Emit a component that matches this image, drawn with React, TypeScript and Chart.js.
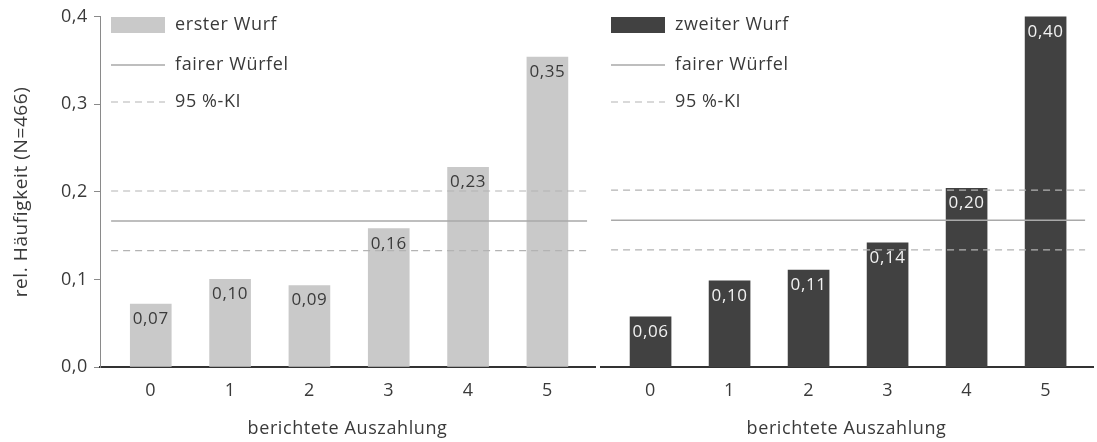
import React, { useEffect, useRef } from 'react';
import { Chart, registerables } from 'chart.js';

Chart.register(...registerables);

// ---- data ----
const categories = [0, 1, 2, 3, 4, 5];
const firstThrow = [0.072, 0.1, 0.093, 0.158, 0.228, 0.354];
const secondThrow = [0.057, 0.098, 0.11, 0.141, 0.203, 0.398];
const fairDie = 0.1667;
const ciLower = 0.133;
const ciUpper = 0.201;
const yTicks = [0, 0.1, 0.2, 0.3, 0.4];
const lineSpan = [-0.5, 5.5];
const yTitle = 'rel. Häufigkeit (N=466)';
const xTitle = 'berichtete Auszahlung';
const firstLabel = 'erster Wurf';
const secondLabel = 'zweiter Wurf';
const fairLabel = 'fairer Würfel';
const ciLabel = '95 %-KI';

const FONT = "'Open Sans', 'Noto Sans', sans-serif";
const TEXT = '#3a3a3a';
const SPACING = '0.6px';

const fmt = (v: number, d: number) => v.toFixed(d).replace('.', ',');

const spacingPlugin = {
  id: 'letterSpacing',
  beforeUpdate(chart: any) {
    (chart.ctx as any).letterSpacing = SPACING;
  },
  beforeLayout(chart: any) {
    (chart.ctx as any).letterSpacing = SPACING;
  },
  beforeDraw(chart: any) {
    (chart.ctx as any).letterSpacing = SPACING;
  },
};

const legendPlugin = {
  id: 'panelLegend',
  afterDatasetsDraw(chart: any) {
    const ctx = chart.ctx;
    const area = chart.chartArea;
    const ds = chart.data.datasets;
    const x0 = area.left + 11;
    const rows = [25, 65, 102];
    ctx.save();
    ctx.fillStyle = ds[0].backgroundColor;
    ctx.fillRect(x0, 17, 54, 16);
    ctx.strokeStyle = ds[1].borderColor;
    ctx.lineWidth = 1.5;
    ctx.beginPath();
    ctx.moveTo(x0, rows[1]);
    ctx.lineTo(x0 + 54, rows[1]);
    ctx.stroke();
    ctx.strokeStyle = ds[2].borderColor;
    ctx.lineWidth = 1.2;
    ctx.setLineDash(ds[2].borderDash);
    ctx.beginPath();
    ctx.moveTo(x0, rows[2]);
    ctx.lineTo(x0 + 54, rows[2]);
    ctx.stroke();
    ctx.setLineDash([]);
    ctx.fillStyle = TEXT;
    ctx.letterSpacing = SPACING;
    ctx.font = `18px ${FONT}`;
    ctx.textBaseline = 'middle';
    ctx.textAlign = 'left';
    [ds[0].label, ds[1].label, ds[2].label].forEach((t: string, i: number) => {
      ctx.fillText(t, x0 + 64, rows[i]);
    });
    ctx.restore();
  },
};

const valueLabelPlugin = {
  id: 'valueLabels',
  afterDatasetsDraw(chart: any, _args: any, opts: any) {
    const ctx = chart.ctx;
    const meta = chart.getDatasetMeta(0);
    const values = chart.data.datasets[0].data;
    ctx.save();
    ctx.letterSpacing = SPACING;
    ctx.font = `17px ${FONT}`;
    ctx.fillStyle = opts.color || TEXT;
    ctx.textAlign = 'center';
    ctx.textBaseline = 'middle';
    meta.data.forEach((el: any, i: number) => {
      ctx.fillText(fmt(values[i].y, 2), el.x, el.y + 15);
    });
    ctx.restore();
  },
};

function makeConfig(values: number[], label: string, color: string, labelColor: string, showY: boolean) {
  return {
    type: 'bar',
    data: {
      datasets: [
        {
          type: 'bar',
          label,
          data: categories.map((c, i) => ({ x: c, y: values[i] })),
          backgroundColor: color,
          barThickness: 41,
          order: 3,
        },
        {
          type: 'line',
          label: fairLabel,
          data: lineSpan.map((x) => ({ x, y: fairDie })),
          borderColor: '#a9a9a9',
          borderWidth: 1.5,
          pointRadius: 0,
          order: 1,
        },
        {
          type: 'line',
          label: ciLabel,
          data: lineSpan.map((x) => ({ x, y: ciUpper })),
          borderColor: '#b3b3b3',
          borderWidth: 1.2,
          borderDash: [7, 5],
          pointRadius: 0,
          order: 1,
        },
        {
          type: 'line',
          label: ciLabel,
          data: lineSpan.map((x) => ({ x, y: ciLower })),
          borderColor: '#b3b3b3',
          borderWidth: 1.2,
          borderDash: [7, 5],
          pointRadius: 0,
          order: 1,
        },
      ],
    },
    options: {
      responsive: false,
      animation: false,
      layout: { padding: { top: 15, right: showY ? 5 : 4, left: 0, bottom: 0 } },
      plugins: {
        legend: { display: false },
        tooltip: { enabled: false },
        valueLabels: { color: labelColor },
      },
      scales: {
        x: {
          type: 'linear',
          min: -0.64,
          max: 5.6,
          offset: false,
          afterBuildTicks: (s: any) => {
            s.ticks = categories.map((v) => ({ value: v }));
          },
          afterFit: (s: any) => {
            s.height = 75;
          },
          grid: { display: false, drawTicks: false, offset: false },
          border: { display: true, color: '#333', width: 2 },
          ticks: {
            font: { family: FONT, size: 18 },
            color: TEXT,
            padding: 13,
            autoSkip: false,
            maxRotation: 0,
            callback: (v: any) => String(v),
          },
          title: {
            display: true,
            text: xTitle,
            font: { family: FONT, size: 18 },
            color: TEXT,
            padding: { top: 0, bottom: 2 },
          },
        },
        y: {
          display: showY,
          min: 0,
          max: 0.4,
          afterBuildTicks: (s: any) => {
            s.ticks = yTicks.map((v) => ({ value: v }));
          },
          afterFit: (s: any) => {
            if (showY) s.width = 100;
          },
          grid: { drawOnChartArea: false, drawTicks: true, tickLength: 6, color: '#8a8a8a' },
          border: { display: true, color: '#8a8a8a', width: 1 },
          ticks: {
            font: { family: FONT, size: 18 },
            color: TEXT,
            padding: 6,
            callback: (v: any) => fmt(Number(v), 1),
          },
          title: {
            display: true,
            text: yTitle,
            font: { family: FONT, size: 19 },
            color: TEXT,
            padding: { top: 10, bottom: 0 },
          },
        },
      },
    },
    plugins: [spacingPlugin, legendPlugin, valueLabelPlugin],
  };
}

export default function App() {
  const leftRef = useRef<HTMLCanvasElement>(null);
  const rightRef = useRef<HTMLCanvasElement>(null);

  useEffect(() => {
    document.body.style.margin = '0';
    const left = new Chart(
      leftRef.current as HTMLCanvasElement,
      makeConfig(firstThrow, firstLabel, '#c9c9c9', TEXT, true) as any
    );
    const right = new Chart(
      rightRef.current as HTMLCanvasElement,
      makeConfig(secondThrow, secondLabel, '#414141', '#f2f2f2', false) as any
    );
    return () => {
      left.destroy();
      right.destroy();
    };
  }, []);

  return (
    <div style={{ position: 'relative', width: 1097, height: 442, background: '#fff' }}>
      <canvas
        ref={leftRef}
        width={600}
        height={442}
        style={{ position: 'absolute', left: 0, top: 0, width: 600, height: 442 }}
      />
      <canvas
        ref={rightRef}
        width={497}
        height={442}
        style={{ position: 'absolute', left: 600, top: 0, width: 497, height: 442 }}
      />
    </div>
  );
}
